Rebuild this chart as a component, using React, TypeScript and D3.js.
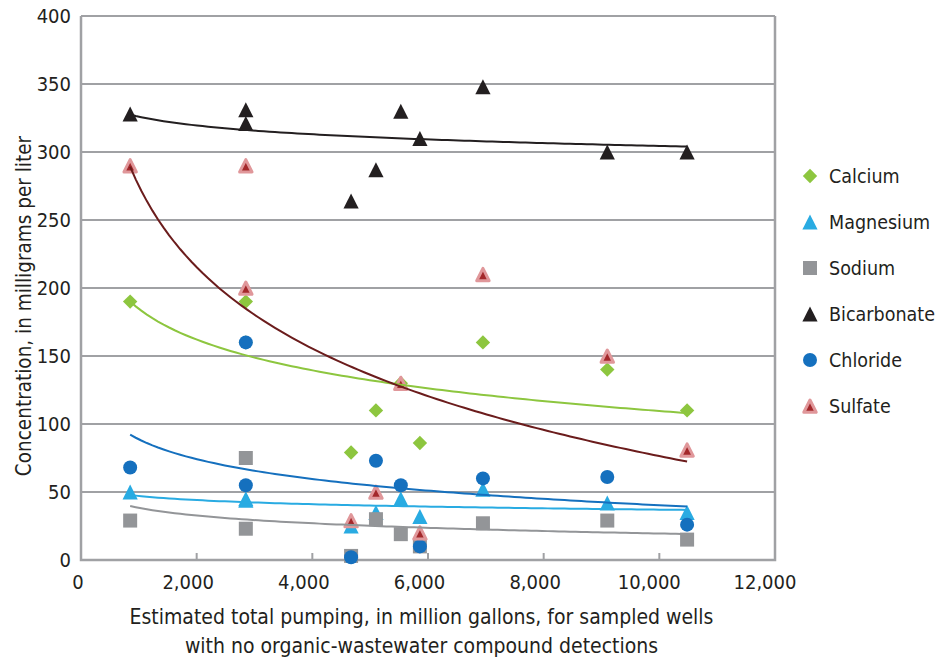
import React from "react";
import * as d3 from "d3";

// Estimated total pumping (million gallons) for each sampled well
const pumping = [850, 2850, 2850, 4670, 5100, 5530, 5860, 6950, 9100, 10480];

// Concentrations, in milligrams per liter, per well (same order as pumping)
const calcium = [190, 190, 160, 79, 110, 130, 86, 160, 140, 110];
const magnesium = [50, 45, 44, 25, 35, 45, 32, 52, 42, 35];
const sodium = [29, 75, 23, 3, 30, 19, 10, 27, 29, 15];
const bicarbonate = [328, 331, 321, 264, 287, 330, 310, 348, 300, 300];
const chloride = [68, 160, 55, 2, 73, 55, 10, 60, 61, 26];
const sulfate = [290, 290, 200, 29, 50, 130, 20, 210, 150, 81];

const seriesNames = ["Calcium", "Magnesium", "Sodium", "Bicarbonate", "Chloride", "Sulfate"];
const seriesValues = [calcium, magnesium, sodium, bicarbonate, chloride, sulfate];

const xTicks = [0, 2000, 4000, 6000, 8000, 10000, 12000];
const yTicks = [0, 50, 100, 150, 200, 250, 300, 350, 400];

type Shape = "diamond" | "triangle" | "square" | "circle" | "sulfate";

const styles: { shape: Shape; fill: string; line: string }[] = [
  { shape: "diamond", fill: "#8dc63f", line: "#8dc63f" },
  { shape: "triangle", fill: "#29abe2", line: "#29abe2" },
  { shape: "square", fill: "#939598", line: "#939598" },
  { shape: "triangle", fill: "#231f20", line: "#231f20" },
  { shape: "circle", fill: "#1570be", line: "#1570be" },
  { shape: "sulfate", fill: "#a3282b", line: "#6b1c1c" },
];

const W = 938;
const H = 663;
const left = 81;
const right = 775;
const top = 16;
const bottom = 560;
const FONT = "'Liberation Sans Narrow', 'DejaVu Sans Condensed', 'Roboto', sans-serif";
const INK = "#231f20";

const x = d3.scaleLinear().domain([0, 12000]).range([left, right]);
const y = d3.scaleLinear().domain([0, 400]).range([bottom, top]);

// Least-squares fit of y = a + b * ln(x)
function logFit(xs: number[], ys: number[]) {
  const lx = xs.map(Math.log);
  const mx = d3.mean(lx) as number;
  const my = d3.mean(ys) as number;
  let sxy = 0;
  let sxx = 0;
  lx.forEach((v, i) => {
    sxy += (v - mx) * (ys[i] - my);
    sxx += (v - mx) * (v - mx);
  });
  const b = sxy / sxx;
  const a = my - b * mx;
  return (v: number) => a + b * Math.log(v);
}

function Marker({ shape, cx, cy, fill }: { shape: Shape; cx: number; cy: number; fill: string }) {
  if (shape === "circle") return <circle cx={cx} cy={cy} r={7} fill={fill} />;
  if (shape === "square") return <rect x={cx - 7} y={cy - 7} width={14} height={14} fill={fill} />;
  if (shape === "diamond") {
    const r = 7.2;
    return <path d={`M${cx},${cy - r}L${cx + r},${cy}L${cx},${cy + r}L${cx - r},${cy}Z`} fill={fill} />;
  }
  if (shape === "triangle") {
    const hw = 7.6;
    const h = 7.5;
    return <path d={`M${cx},${cy - h}L${cx + hw},${cy + h}L${cx - hw},${cy + h}Z`} fill={fill} />;
  }
  const hw = 6.2;
  const h = 6;
  return (
    <path
      d={`M${cx},${cy - h}L${cx + hw},${cy + h + 0.3}L${cx - hw},${cy + h + 0.3}Z`}
      fill={fill}
      stroke="#e0979a"
      strokeWidth={3}
      strokeLinejoin="round"
    />
  );
}

// Tick labels sit slightly left of their tick, more so for wider labels
const xLabelShift = (t: number) => (t === 0 ? -3 : t >= 10000 ? -10 : -8.5);

export default function App() {
  const [x0, x1] = d3.extent(pumping) as [number, number];
  const samples = d3.range(0, 101).map((i) => x0 + ((x1 - x0) * i) / 100);
  const line = d3.line<[number, number]>().x((d) => x(d[0])).y((d) => y(d[1]));

  const trends = seriesValues.map((vals) => {
    const f = logFit(pumping, vals);
    return line(samples.map((s) => [s, f(s)] as [number, number])) as string;
  });

  const grid = "#a0a1a4";

  return (
    <svg
      width={W}
      height={H}
      style={{ position: "absolute", left: 0, top: 0, background: "#fff" }}
      fontFamily={FONT}
    >
      {/* gridlines */}
      {yTicks.filter((t) => t > 0).map((t) => (
        <line key={t} x1={left} x2={right} y1={y(t)} y2={y(t)} stroke={grid} strokeWidth={2} />
      ))}
      {/* frame */}
      <path d={`M${left},${top}V${bottom}H${right}V${top}`} fill="none" stroke={grid} strokeWidth={2.5} />
      {/* x ticks (inside) */}
      {xTicks.slice(1, -1).map((t) => (
        <line key={t} x1={x(t)} x2={x(t)} y1={bottom} y2={bottom - 7} stroke={grid} strokeWidth={2} />
      ))}

      {/* y tick labels */}
      {yTicks.map((t) => (
        <text key={t} x={71} y={y(t)} dy="0.36em" textAnchor="end" fontSize={20} fill={INK}>
          {t}
        </text>
      ))}
      {/* x tick labels */}
      {xTicks.map((t) => (
        <text key={t} x={x(t) + xLabelShift(t)} y={589} textAnchor="middle" fontSize={20} fill={INK}>
          {d3.format(",")(t)}
        </text>
      ))}

      {/* axis titles */}
      <text
        transform={`translate(31,${306}) rotate(-90)`}
        textAnchor="middle"
        fontSize={20.5}
        fill={INK}
      >
        Concentration, in milligrams per liter
      </text>
      <text x={421.5} y={624} textAnchor="middle" fontSize={21} fill={INK}>
        Estimated total pumping, in million gallons, for sampled wells
      </text>
      <text x={421.5} y={653} textAnchor="middle" fontSize={21} fill={INK}>
        with no organic-wastewater compound detections
      </text>

      {/* markers */}
      {seriesValues.map((vals, si) => (
        <g key={seriesNames[si]}>
          {vals.map((v, i) => (
            <Marker key={i} shape={styles[si].shape} cx={x(pumping[i])} cy={y(v)} fill={styles[si].fill} />
          ))}
        </g>
      ))}

      {/* logarithmic trendlines */}
      {trends.map((d, si) => (
        <path key={seriesNames[si]} d={d} fill="none" stroke={styles[si].line} strokeWidth={2} />
      ))}

      {/* legend */}
      {seriesNames.map((name, i) => (
        <g key={name} transform={`translate(0,${176 + i * 46})`}>
          <Marker shape={styles[i].shape} cx={810} cy={0} fill={styles[i].fill} />
          <text x={829} y={0} dy="0.36em" fontSize={19.5} fill={INK}>
            {name}
          </text>
        </g>
      ))}
    </svg>
  );
}
